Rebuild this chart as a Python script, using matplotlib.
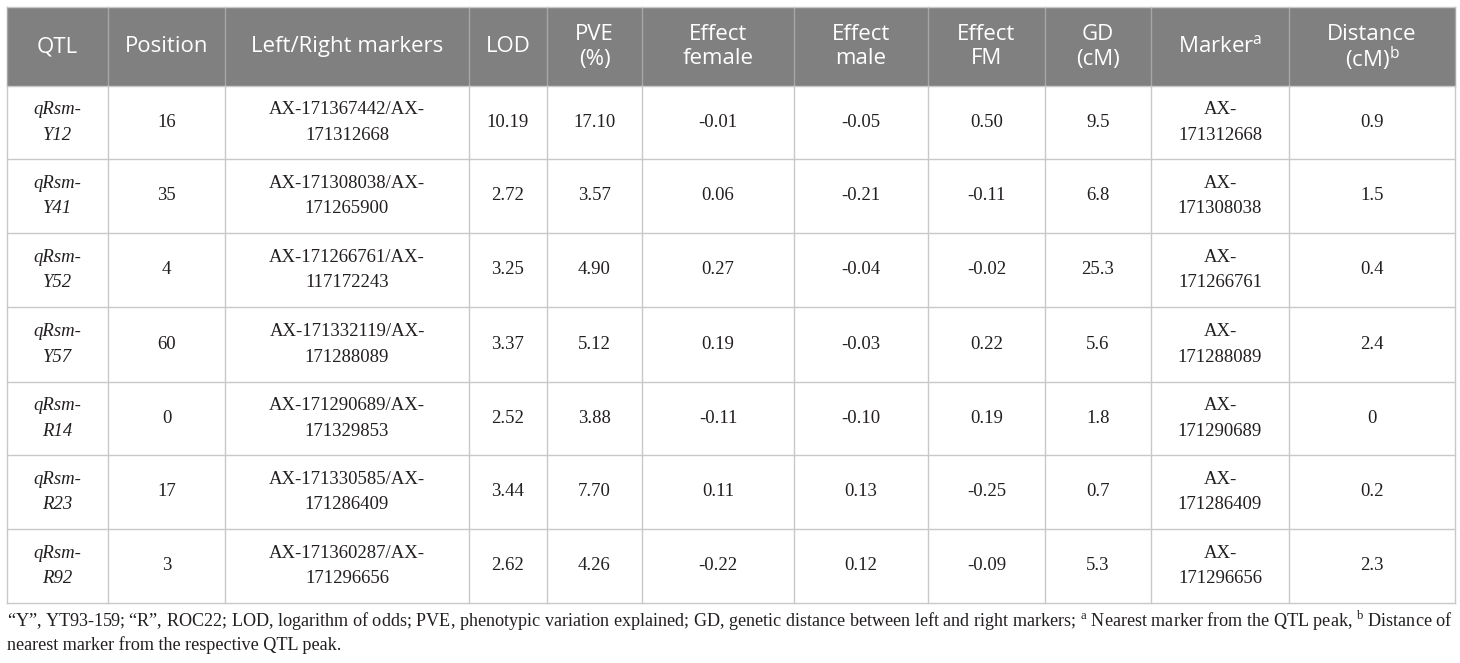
import matplotlib
matplotlib.use('Agg')
import matplotlib.pyplot as plt
from matplotlib.patches import Rectangle

plt.rcParams['mathtext.fontset'] = 'custom'
plt.rcParams['mathtext.rm'] = 'Liberation Serif'
plt.rcParams['mathtext.sf'] = 'Open Sans'

# table data
headers = [['QTL'], ['Position'], ['Left/Right markers'], ['LOD'], ['PVE', '(%)'],
           ['Effect', 'female'], ['Effect', 'male'], ['Effect', 'FM'], ['GD', '(cM)'],
           [r'Marker$^{\mathsf{a}}$'], ['Distance', r'(cM)$^{\mathsf{b}}$']]
qtl_ids = ['Y12', 'Y41', 'Y52', 'Y57', 'R14', 'R23', 'R92']
positions = ['16', '35', '4', '60', '0', '17', '3']
left_markers = ['AX-171367442', 'AX-171308038', 'AX-171266761', 'AX-171332119',
                'AX-171290689', 'AX-171330585', 'AX-171360287']
right_markers = ['AX-171312668', 'AX-171265900', 'AX-117172243', 'AX-171288089',
                 'AX-171329853', 'AX-171286409', 'AX-171296656']
lod = ['10.19', '2.72', '3.25', '3.37', '2.52', '3.44', '2.62']
pve = ['17.10', '3.57', '4.90', '5.12', '3.88', '7.70', '4.26']
effect_female = ['-0.01', '0.06', '0.27', '0.19', '-0.11', '0.11', '-0.22']
effect_male = ['-0.05', '-0.21', '-0.04', '-0.03', '-0.10', '0.13', '0.12']
effect_fm = ['0.50', '-0.11', '-0.02', '0.22', '0.19', '-0.25', '-0.09']
gd = ['9.5', '6.8', '25.3', '5.6', '1.8', '0.7', '5.3']
nearest = ['AX-171312668', 'AX-171308038', 'AX-171266761', 'AX-171288089',
           'AX-171290689', 'AX-171286409', 'AX-171296656']
distance = ['0.9', '1.5', '0.4', '2.4', '0', '0.2', '2.3']

footnote1 = (u'\u201cY\u201d, YT93-159; \u201cR\u201d, ROC22; LOD, logarithm of odds; PVE, '
             u'phenotypic variation explained; GD, genetic distance between left and right '
             r'markers; $^{\mathrm{a}}$ Nearest marker from the QTL peak, $^{\mathrm{b}}$ Distance of')
footnote2 = 'nearest marker from the respective QTL peak.'

# layout (pixels)
xs = [7, 108, 225, 469, 547, 642, 794, 928, 1045, 1151, 1289, 1455]
ys = [7, 86, 159, 233, 307, 382, 455, 529, 603]
gap = 12.5

fig = plt.figure(figsize=(14.6, 6.63), dpi=100)
ax = fig.add_axes([0, 0, 1, 1])
ax.set_xlim(0, 1460)
ax.set_ylim(663, 0)
ax.axis('off')

head_col = '#808080'
line_col = '#c8c8c8'
txt_col = '#231f20'
serif = 'Liberation Serif'

ax.add_patch(Rectangle((xs[0], ys[0]), xs[-1] - xs[0], ys[1] - ys[0],
                       facecolor=head_col, edgecolor='none'))

# grid lines
for x in xs:
    ax.plot([x, x], [ys[0], ys[1]], color='#a6a6a6', lw=1)
    ax.plot([x, x], [ys[1], ys[-1]], color=line_col, lw=1)
for y in ys:
    ax.plot([xs[0], xs[-1]], [y, y], color=line_col, lw=1)


def cell(ci, ri, lines, **kw):
    xc = (xs[ci] + xs[ci + 1]) / 2
    yc = (ys[ri] + ys[ri + 1]) / 2
    n = len(lines)
    for k, s in enumerate(lines):
        ax.text(xc, yc + (k - (n - 1) / 2) * 2 * gap, s,
                ha='center', va='center', **kw)


for ci, h in enumerate(headers):
    cell(ci, 0, h, family='Open Sans', fontsize=16, color='white')

for ri in range(len(qtl_ids)):
    body = dict(family=serif, fontsize=13.5, color=txt_col)
    cell(0, ri + 1, ['qRsm-', qtl_ids[ri]], style='italic', **body)
    cell(1, ri + 1, [positions[ri]], **body)
    cell(2, ri + 1, [left_markers[ri] + '/AX-', right_markers[ri][3:]], **body)
    cell(3, ri + 1, [lod[ri]], **body)
    cell(4, ri + 1, [pve[ri]], **body)
    cell(5, ri + 1, [effect_female[ri]], **body)
    cell(6, ri + 1, [effect_male[ri]], **body)
    cell(7, ri + 1, [effect_fm[ri]], **body)
    cell(8, ri + 1, [gd[ri]], **body)
    cell(9, ri + 1, ['AX-', nearest[ri][3:]], **body)
    cell(10, ri + 1, [distance[ri]], **body)

ax.text(7, 621, footnote1, ha='left', va='center', family=serif, fontsize=13.1, color=txt_col)
ax.text(7, 645, footnote2, ha='left', va='center', family=serif, fontsize=13.1, color=txt_col)

fig.savefig('out.png', dpi=100)
